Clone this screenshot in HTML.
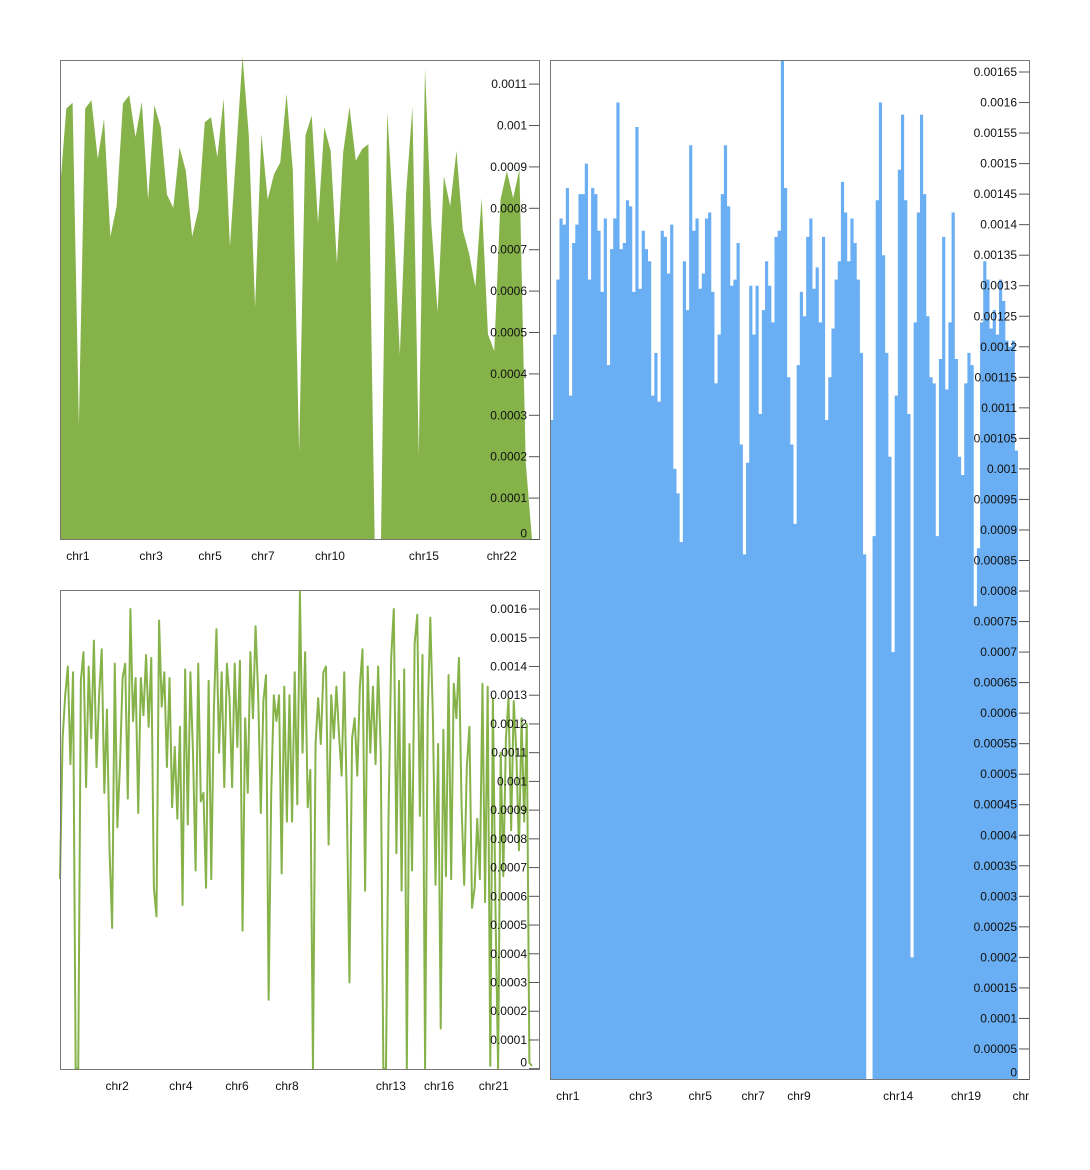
<!DOCTYPE html>
<html><head><meta charset="utf-8">
<style>
html,body{margin:0;padding:0;background:#fff;}
svg{display:block;font-family:"Liberation Sans",Arial,sans-serif;}
</style></head>
<body>
<svg id="c" width="1090" height="1170" viewBox="0 0 1090 1170" xmlns="http://www.w3.org/2000/svg"></svg>
<script>
// ---- data (values in units of 1e-4) ----
const areaValues = [8.46,10.41,10.55,2.76,10.41,10.61,9.19,10.16,7.32,8.05,10.53,10.73,9.72,10.57,8.21,10.49,9.96,8.33,8.01,9.47,8.90,7.32,7.97,10.08,10.20,9.23,10.65,7.07,9.35,11.67,9.76,5.61,9.80,8.21,8.82,9.11,10.77,8.90,2.11,9.76,10.24,7.64,9.96,9.39,6.67,9.35,10.45,9.15,9.43,9.55,0,0,10.33,7.72,4.47,8.37,10.45,2.03,11.38,7.64,5.49,8.78,8.05,9.39,7.48,6.91,6.10,8.25,4.96,4.55,8.21,8.90,8.25,8.94,1.87,0];
const areaTicks = [0,1,2,3,4,5,6,7,8,9,10,11];
const areaTickLabels = ["0","0.0001","0.0002","0.0003","0.0004","0.0005","0.0006","0.0007","0.0008","0.0009","0.001","0.0011"];
const areaCategories = ["chr1","chr3","chr5","chr7","chr10","chr15","chr22"];
const areaCategoryPos = [0.038,0.193,0.318,0.430,0.572,0.771,0.936];

const lineValues = [6.6,11.5,13.0,14.0,10.6,13.8,0,0,13.5,14.5,9.8,14.0,11.5,14.9,10.5,13.0,14.6,9.6,12.5,7.6,4.9,14.1,8.4,10.6,13.6,14.1,9.4,16.0,12.1,13.6,8.9,13.6,12.3,14.4,11.9,14.3,6.3,5.3,15.6,12.6,13.8,10.5,13.6,9.1,11.2,8.7,11.9,5.7,13.9,8.5,13.8,11.0,6.9,14.1,9.3,9.6,6.3,13.5,6.6,12.5,15.3,11.0,13.8,9.8,14.1,12.9,9.8,14.1,11.2,14.2,4.8,12.2,9.6,14.5,12.2,15.4,13.0,8.9,12.8,13.7,2.4,9.6,13.0,12.1,13.0,6.8,13.3,8.6,13.0,8.6,13.8,9.2,16.6,11.0,14.5,9.1,10.4,0,11.3,12.9,11.3,13.8,14.0,7.8,13.0,11.5,13.3,11.6,10.2,13.8,9.2,3.0,11.5,12.2,10.2,13.3,14.6,6.2,14.0,11.0,13.3,10.6,14.0,11.0,0,0,8.9,14.3,16.0,7.5,13.5,6.2,13.9,0,11.3,6.9,14.8,15.8,8.8,14.4,0,12.3,15.7,12.2,6.4,11.3,1.4,11.8,6.7,13.7,6.6,13.4,12.2,14.3,9.1,6.4,10.5,11.9,5.6,6.3,8.7,6.6,13.4,5.8,13.3,0.1,12.9,5.5,0,11.0,6.7,11.5,12.9,8.3,12.8,11.0,7.6,12.2,8.6,12.0,0.2,0.1];
const lineTicks = [0,1,2,3,4,5,6,7,8,9,10,11,12,13,14,15,16];
const lineTickLabels = ["0","0.0001","0.0002","0.0003","0.0004","0.0005","0.0006","0.0007","0.0008","0.0009","0.001","0.0011","0.0012","0.0013","0.0014","0.0015","0.0016"];
const lineCategories = ["chr2","chr4","chr6","chr8","chr13","chr16","chr21"];
const lineCategoryPos = [0.121,0.256,0.375,0.481,0.701,0.803,0.919];

const stepValues = [10.8,12.2,13.1,14.1,14.0,14.6,11.2,13.7,14.0,14.5,14.5,15.0,13.1,14.6,14.5,13.9,12.9,14.1,11.7,13.6,14.1,16.0,13.6,13.7,14.4,14.3,12.9,15.6,12.95,13.9,13.6,13.4,11.2,11.9,11.1,13.9,13.8,13.2,14.0,10.0,9.6,8.8,13.4,12.6,15.3,13.9,14.1,12.95,13.2,14.1,14.2,12.9,11.4,12.2,14.5,15.3,14.3,13.0,13.1,13.7,10.4,8.6,10.1,13.0,12.2,13.0,10.9,12.6,13.4,13.0,12.4,13.8,13.9,16.7,14.6,11.5,10.4,9.1,11.7,12.9,12.5,13.8,14.1,12.95,13.3,12.4,13.8,10.8,11.5,12.3,13.1,13.4,14.7,14.2,13.4,14.1,13.7,13.1,11.9,8.6,0,0,8.9,14.4,16.0,13.5,11.9,10.2,7.0,11.2,14.9,15.8,14.4,10.9,2.0,12.4,14.2,15.8,14.5,12.5,11.5,11.4,8.9,11.8,13.8,11.3,12.4,14.2,11.8,10.2,9.9,11.4,11.9,11.7,7.75,8.7,12.4,13.4,13.1,12.3,12.6,12.2,13.1,12.75,12.1,12.0,12.1,10.3];
const stepTicks = [0,0.5,1,1.5,2,2.5,3,3.5,4,4.5,5,5.5,6,6.5,7,7.5,8,8.5,9,9.5,10,10.5,11,11.5,12,12.5,13,13.5,14,14.5,15,15.5,16,16.5];
const stepTickLabels = ["0","0.00005","0.0001","0.00015","0.0002","0.00025","0.0003","0.00035","0.0004","0.00045","0.0005","0.00055","0.0006","0.00065","0.0007","0.00075","0.0008","0.00085","0.0009","0.00095","0.001","0.00105","0.0011","0.00115","0.0012","0.00125","0.0013","0.00135","0.0014","0.00145","0.0015","0.00155","0.0016","0.00165"];
const stepCategories = ["chr1","chr3","chr5","chr7","chr9","chr14","chr19","chr"];
const stepCategoryPos = [0.038,0.194,0.321,0.434,0.532,0.744,0.889,1.006];

// ---- rendering ----
const NS = "http://www.w3.org/2000/svg";
const svg = document.getElementById('c');
function mk(tag, attrs, parent) {
  const e = document.createElementNS(NS, tag);
  for (const k in attrs) e.setAttribute(k, attrs[k]);
  (parent || svg).appendChild(e);
  return e;
}
function panel(name) {
  const g = mk('g', {});
  
  
  return g;
}
function frame(g, x0, y0, x1, y1) {
  const r = mk('rect', {x: x0 + 0.5, y: y0 + 0.5, width: x1 - x0, height: y1 - y0, fill: 'none', stroke: '#777', 'stroke-width': 1}, g);
  
  
}
function yAxis(g, ticks, labels, yFn, xRight, yTop, zeroOff) {
  const ax = mk('g', {}, g);
  
  
  ticks.forEach((t, i) => {
    const y = yFn(t);
    if (y < yTop) return;
    const ln = mk('line', {x1: xRight - 10, x2: xRight, y1: y, y2: y, stroke: '#555', 'stroke-width': 1}, ax);
    
    
    const tx = mk('text', {x: xRight - 12, y: (i === 0 ? y - zeroOff : y + 4), 'text-anchor': 'end', 'font-size': 12, fill: '#111'}, ax);
    tx.textContent = labels[i];
    
    
  });
}
function xLabels(g, cats, xs, y) {
  const ax = mk('g', {}, g);
  
  
  cats.forEach((c, i) => {
    const t = mk('text', {x: xs[i], y: y, 'text-anchor': 'middle', 'font-size': 12, fill: '#111'}, ax);
    t.textContent = c;
    
    
  });
}

// Panel 1: area chart
(function () {
  const g = panel('area-chart-panel');
  const xs = i => 60 + i * (532 - 60) / (areaValues.length - 1);
  const ys = v => 539.5 - v * 41.4;
  let d = 'M' + xs(0) + ',' + ys(0);
  areaValues.forEach((v, i) => { d += ' L' + xs(i).toFixed(2) + ',' + ys(v).toFixed(2); });
  d += ' L' + xs(areaValues.length - 1) + ',' + ys(0) + ' Z';
  const p = mk('path', {d: d, fill: '#86b24a'}, g);
  
  
  frame(g, 60, 60, 539, 539);
  yAxis(g, areaTicks, areaTickLabels, ys, 539, 60, 2);
  xLabels(g, areaCategories, areaCategoryPos.map(f => 60 + f * 472), 560);
})();

// Panel 2: line chart
(function () {
  const g = panel('line-chart-panel');
  const xs = i => 60 + i * (532 - 60) / (lineValues.length - 1);
  const ys = v => 1068.7 - v * 28.73;
  let d = '';
  lineValues.forEach((v, i) => { d += (i ? ' L' : 'M') + xs(i).toFixed(2) + ',' + ys(v).toFixed(2); });
  const p = mk('path', {d: d, fill: 'none', stroke: '#86b24a', 'stroke-width': 2, 'stroke-linejoin': 'round'}, g);
  
  
  frame(g, 60, 590, 539, 1069);
  yAxis(g, lineTicks, lineTickLabels, ys, 539, 590, 2);
  xLabels(g, lineCategories, lineCategoryPos.map(f => 60 + f * 472), 1090);
})();

// Panel 3: step chart
(function () {
  const g = panel('step-chart-panel');
  const n = stepValues.length;
  const w = (1018 - 550) / n;
  const xs = i => 550 + i * w;
  const yAx = v => 1079.5 - v * 61.06;
  const ys = v => Math.max(61, yAx(v));
  let d = 'M' + xs(0) + ',' + ys(0);
  stepValues.forEach((v, i) => { d += ' L' + xs(i).toFixed(2) + ',' + ys(v).toFixed(2) + ' L' + xs(i + 1).toFixed(2) + ',' + ys(v).toFixed(2); });
  d += ' L' + xs(n) + ',' + ys(0) + ' Z';
  const p = mk('path', {d: d, fill: '#6aaef3'}, g);
  
  
  frame(g, 550, 60, 1029, 1079);
  yAxis(g, stepTicks, stepTickLabels, yAx, 1029, 60, 3);
  xLabels(g, stepCategories, stepCategoryPos.map(f => 550 + f * 468), 1100);
})();
</script>
</body></html>
